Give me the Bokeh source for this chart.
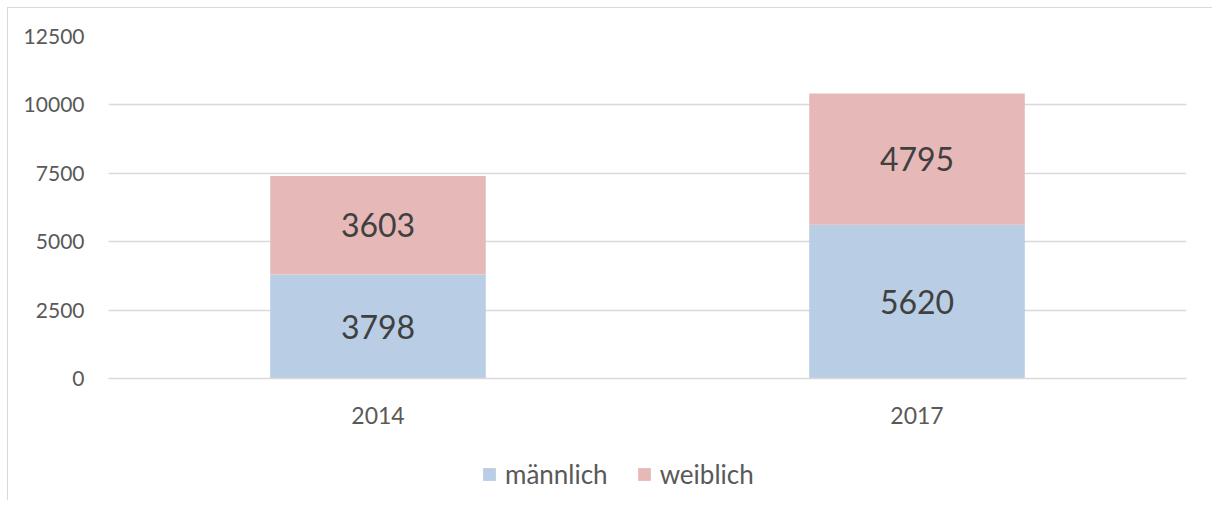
from bokeh.plotting import figure
from bokeh.layouts import column
from bokeh.models import FactorRange, Range1d, Legend, LegendItem, ColumnDataSource, FixedTicker
from bokeh.embed import file_html
from bokeh.resources import INLINE
from bokeh.core.properties import value

years = ["2014", "2017"]
maennlich = [3798, 5620]
weiblich = [3603, 4795]
series = ["männlich", "weiblich"]
colors = ["#b9cde5", "#e6b9b8"]
y_ticks = [0, 2500, 5000, 7500, 10000, 12500]

FONT = "Lato"
W = 1204

p = figure(x_range=FactorRange(factors=years, range_padding=0),
           y_range=Range1d(0, 12500),
           width=W, height=422, output_backend="svg", toolbar_location=None,
           min_border_left=100, min_border_right=26, min_border_top=28, min_border_bottom=52)

src = ColumnDataSource(dict(years=years, m=maennlich, w=weiblich))
rs = p.vbar_stack(["m", "w"], x="years", width=0.4, source=src, color=colors, line_color=None)

# data labels
m_mid = [v / 2 for v in maennlich]
w_mid = [m + w / 2 for m, w in zip(maennlich, weiblich)]
lab = ColumnDataSource(dict(x=years + years, y=m_mid + w_mid,
                            t=[str(v) for v in maennlich] + [str(v) for v in weiblich]))
p.text(x="x", y="y", text="t", source=lab, text_align="center", text_baseline="middle",
       text_font=value(FONT), text_font_size="32px", text_color="#404040")

p.outline_line_color = None
p.xgrid.grid_line_color = None
p.ygrid.grid_line_color = "#d9d9d9"
p.ygrid.grid_line_width = 1.5
p.yaxis.ticker = FixedTicker(ticks=y_ticks)
p.yaxis.axis_line_color = None
p.yaxis.major_tick_line_color = None
p.yaxis.minor_tick_line_color = None
p.yaxis.major_label_standoff = 18
p.yaxis.major_label_text_font = FONT
p.yaxis.major_label_text_font_size = "21px"
p.yaxis.major_label_text_color = "#595959"

p.xaxis.axis_line_color = "#d9d9d9"
p.xaxis.axis_line_width = 1.5
p.xaxis.major_tick_line_color = None
p.xaxis.minor_tick_line_color = None
p.xaxis.major_label_standoff = 22
p.xaxis.major_label_text_font = FONT
p.xaxis.major_label_text_font_size = "23px"
p.xaxis.major_label_text_color = "#595959"

# legend panel
lg = figure(width=W, height=70, output_backend="svg", toolbar_location=None,
            x_range=Range1d(0, 1), y_range=Range1d(0, 1),
            min_border_left=100, min_border_right=26, min_border_top=0, min_border_bottom=0)
lg.axis.visible = False
lg.grid.visible = False
lg.outline_line_color = None
dummies = [lg.vbar(x=[5], top=[5], bottom=[4], width=0.1, color=c, line_color=None) for c in colors]
legend = Legend(items=[LegendItem(label=series[i], renderers=[dummies[i]]) for i in range(2)],
                orientation="horizontal", location=(373, 10),
                label_text_font=FONT, label_text_font_size="26px", label_text_color="#595959",
                glyph_width=16, glyph_height=16, label_standoff=8, spacing=28,
                border_line_color=None, background_fill_alpha=0, margin=0, padding=0)
lg.add_layout(legend, "center")

layout = column(p, lg, spacing=0,
                styles={"margin-left": "7px", "margin-top": "7px",
                        "border-left": "1.5px solid #d9d9d9", "border-top": "1.5px solid #d9d9d9"})

open("out.html", "w").write(file_html(layout, INLINE))
